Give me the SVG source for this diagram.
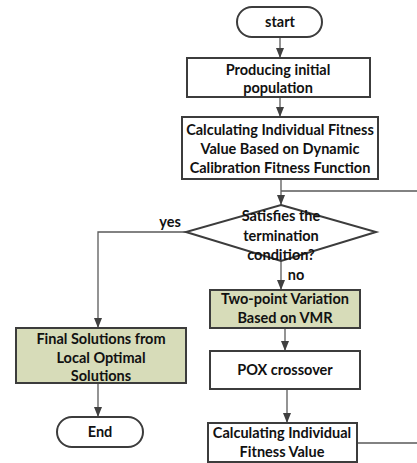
<svg xmlns="http://www.w3.org/2000/svg" width="417" height="463" viewBox="0 0 417 463">
<style>
.box{fill:#fff;stroke:#3c3c3c;stroke-width:2}
.hl{fill:#d7dcb9}
.t{font-family:Lato,"Liberation Sans",sans-serif;font-weight:bold;font-size:14.5px;fill:#111;text-anchor:middle}
.c{fill:none;stroke:#5a5a5a;stroke-width:1.3}
</style>
<defs>
<marker id="ah" viewBox="0 0 10 8" refX="10" refY="4" markerWidth="10" markerHeight="8" markerUnits="userSpaceOnUse" orient="auto">
<path d="M0,0 L10,4 L0,8 z" fill="#404040"/>
</marker>
</defs>
<rect width="417" height="463" fill="#fff"/>
<g id="connectors">
<path class="c" d="M280,37 V58" marker-end="url(#ah)"/>
<path class="c" d="M280,97 V117" marker-end="url(#ah)"/>
<path class="c" d="M281,179 V205" marker-end="url(#ah)"/>
<path class="c" d="M186,232 H98 V328" marker-end="url(#ah)"/>
<path class="c" d="M98,383 V417" marker-end="url(#ah)"/>
<path class="c" d="M281,261 V290" marker-end="url(#ah)"/>
<path class="c" d="M285,328 V351" marker-end="url(#ah)"/>
<path class="c" d="M287,389 V423" marker-end="url(#ah)"/>
<path class="c" d="M357,443 H440 V191 H281"/>
<text class="t" x="170" y="227">yes</text>
<text class="t" x="296" y="280">no</text>
</g>
<g id="start">
<rect class="box" x="237" y="7" width="85" height="30" rx="15"/>
<text class="t" x="280" y="27">start</text>
</g>
<g id="producing">
<rect class="box" x="187" y="58" width="183" height="39"/>
<text class="t" x="278" y="75">Producing initial</text>
<text class="t" x="278" y="93">population</text>
</g>
<g id="calc1">
<rect class="box" x="182" y="117" width="196" height="62"/>
<text class="t" x="280" y="135">Calculating Individual Fitness</text>
<text class="t" x="280" y="154">Value Based on Dynamic</text>
<text class="t" x="280" y="173">Calibration Fitness Function</text>
</g>
<g id="decision">
<polygon class="box" points="281,205 376,232 281,261 186,232"/>
<text class="t" x="281" y="221">Satisfies the</text>
<text class="t" x="281" y="241">termination</text>
<text class="t" x="281" y="260">condition?</text>
</g>
<g id="final">
<rect class="box hl" x="16" y="328" width="170" height="55"/>
<text class="t" x="101" y="344">Final Solutions from</text>
<text class="t" x="101" y="363">Local Optimal</text>
<text class="t" x="101" y="381">Solutions</text>
</g>
<g id="end">
<rect class="box" x="57" y="417" width="86" height="30" rx="15"/>
<text class="t" x="100" y="437">End</text>
</g>
<g id="twopoint">
<rect class="box hl" x="210" y="290" width="150" height="38"/>
<text class="t" x="285" y="304">Two-point Variation</text>
<text class="t" x="285" y="323">Based on VMR</text>
</g>
<g id="pox">
<rect class="box" x="210" y="351" width="150" height="38"/>
<text class="t" x="285" y="375">POX crossover</text>
</g>
<g id="calc2">
<rect class="box" x="208" y="423" width="149" height="39"/>
<text class="t" x="282" y="438">Calculating Individual</text>
<text class="t" x="282" y="457">Fitness Value</text>
</g>
</svg>
